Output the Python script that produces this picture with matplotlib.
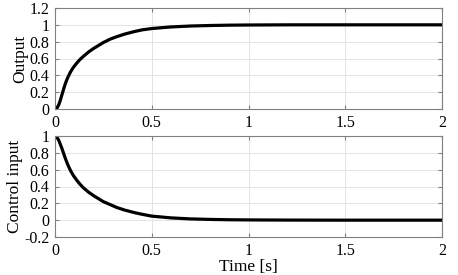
import matplotlib
matplotlib.use('agg')
from matplotlib import pyplot as plt
from matplotlib.ticker import FuncFormatter

# step response
t = [0, 0.01, 0.019, 0.027, 0.036, 0.045, 0.054, 0.065, 0.08, 0.095, 0.114, 0.13,
     0.149, 0.175, 0.2, 0.225, 0.25, 0.285, 0.32, 0.36, 0.41, 0.45, 0.5,
     0.6, 0.7, 0.8, 0.9, 1.0, 1.2, 1.5, 2.0]
output = [0, 0.012, 0.048, 0.10, 0.17, 0.24, 0.305, 0.37, 0.44, 0.495, 0.55, 0.59,
          0.63, 0.68, 0.72, 0.755, 0.79, 0.83, 0.86, 0.89, 0.92, 0.94, 0.956,
          0.975, 0.986, 0.992, 0.996, 0.998, 1.0, 1.0, 1.0]
control = [1.0, 0.985, 0.95, 0.905, 0.85, 0.79, 0.73, 0.665, 0.59, 0.53, 0.47, 0.425,
           0.38, 0.33, 0.29, 0.255, 0.22, 0.185, 0.15, 0.12, 0.09, 0.07, 0.048,
           0.027, 0.015, 0.009, 0.005, 0.003, 0.001, 0.0, 0.0]

xticks = [0, 0.5, 1, 1.5, 2]
yticks_top = [0, 0.2, 0.4, 0.6, 0.8, 1, 1.2]
yticks_bot = [-0.2, 0, 0.2, 0.4, 0.6, 0.8, 1]

plt.rcParams['font.family'] = ['Liberation Serif', 'DejaVu Serif']
plt.rcParams['axes.unicode_minus'] = False

W, H = 458, 275
fig = plt.figure(figsize=(W / 100, H / 100), dpi=100)
ax1 = fig.add_axes([55 / W, 1 - 109 / H, 387 / W, 101 / H])
ax2 = fig.add_axes([55 / W, 1 - 237 / H, 387 / W, 101 / H])

fmt = FuncFormatter(lambda v, p: ('%g' % round(v, 3)))

def style(ax, yticks):
    ax.set_xlim(0, 2)
    ax.set_ylim(yticks[0], yticks[-1])
    ax.set_xticks(xticks)
    ax.set_yticks(yticks)
    ax.xaxis.set_major_formatter(fmt)
    ax.yaxis.set_major_formatter(fmt)
    ax.grid(True, color='#e3e3e3', linewidth=0.7)
    ax.set_axisbelow(True)
    ax.tick_params(direction='in', top=True, right=True, length=3,
                   color='#808080', labelsize=11.5, pad=4)
    for s in ax.spines.values():
        s.set_color('#808080')
        s.set_linewidth(0.8)

ax1.plot(t, output, color='black', linewidth=2.3, solid_joinstyle='round')
style(ax1, yticks_top)
ax1.set_ylabel('Output', fontsize=12.5, labelpad=1)

ax2.plot(t, control, color='black', linewidth=2.3, solid_joinstyle='round')
style(ax2, yticks_bot)
ax2.set_ylabel('Control input', fontsize=12.5, labelpad=1)
ax2.set_xlabel('Time [s]', fontsize=12.5, labelpad=0)

fig.savefig('out.png', dpi=100)
